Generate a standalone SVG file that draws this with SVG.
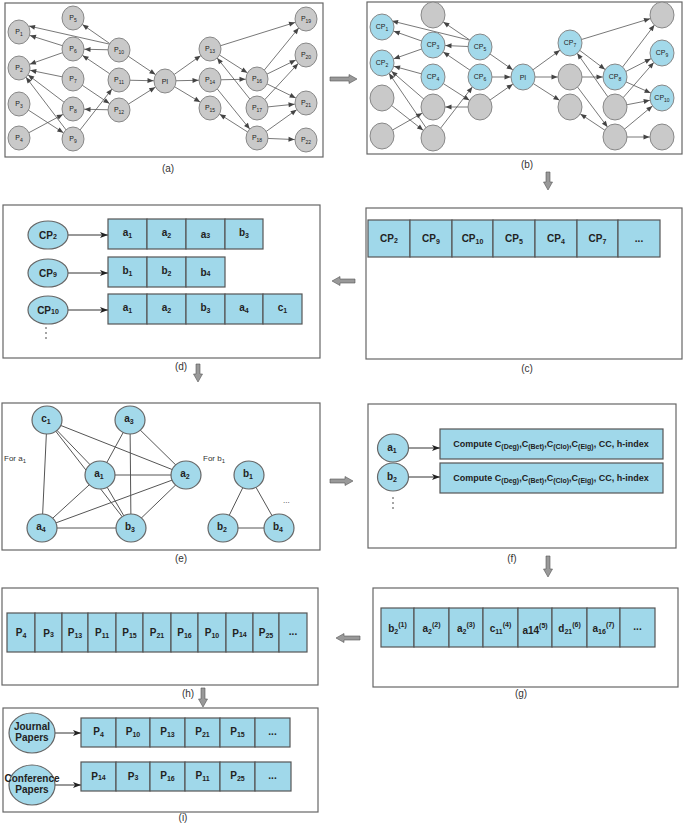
<svg xmlns="http://www.w3.org/2000/svg" width="685" height="824" viewBox="0 0 685 824">
<defs>
<style>
.box{fill:#fff;stroke:#666;stroke-width:1.2}
.gn{fill:#c9c9c9;stroke:#888;stroke-width:1}
.bn{fill:#a3d9ea;stroke:#888;stroke-width:1}
.bn2{fill:#a3d9ea;stroke:#666;stroke-width:1.2}
.nl{font-family:"Liberation Sans",Arial,sans-serif;font-size:7px;fill:#222;text-anchor:middle}
.sb{font-size:5px}
.e{stroke:#555;stroke-width:0.8;fill:none}
.ea{stroke:#555;stroke-width:0.8;fill:none;marker-end:url(#ma)}
.eb{stroke:#555;stroke-width:0.8;fill:none;marker-end:url(#mb)}
.e0{stroke:#555;stroke-width:0.8;fill:none;marker-end:url(#m0)}
.ek{stroke:#333;stroke-width:1;fill:none;marker-end:url(#mk)}
.ge{stroke:#555;stroke-width:1;fill:none}
.cell{fill:#a0d8ea;stroke:#555;stroke-width:1.2}
.cl{font-family:"Liberation Sans",Arial,sans-serif;font-weight:bold;font-size:10px;fill:#222;text-anchor:middle}
.cs{font-size:7px}
.lab{font-family:"Liberation Sans",Arial,sans-serif;font-size:10px;fill:#333;text-anchor:middle}
.txt{font-family:"Liberation Sans",Arial,sans-serif;font-size:8px;fill:#333}
.ft{font-family:"Liberation Sans",Arial,sans-serif;font-weight:bold;font-size:9px;fill:#222;text-anchor:middle}
.fs{font-size:7px}
.blk{fill:#999;stroke:#555;stroke-width:0.6}
</style>
<marker id="ma" markerUnits="userSpaceOnUse" markerWidth="7" markerHeight="5" refX="17.5" refY="2.5" orient="auto" overflow="visible"><path d="M0,0 L6,2.5 L0,5 z" fill="#444"/></marker>
<marker id="mb" markerUnits="userSpaceOnUse" markerWidth="7" markerHeight="5" refX="18.5" refY="2.5" orient="auto" overflow="visible"><path d="M0,0 L6,2.5 L0,5 z" fill="#444"/></marker>
<marker id="m0" markerUnits="userSpaceOnUse" markerWidth="7" markerHeight="5" refX="6" refY="2.5" orient="auto" overflow="visible"><path d="M0,0 L6,2.5 L0,5 z" fill="#444"/></marker>
<marker id="mk" markerUnits="userSpaceOnUse" markerWidth="8" markerHeight="6" refX="8" refY="3" orient="auto" overflow="visible"><path d="M0,0 L8,3 L0,6 L2,3 z" fill="#222"/></marker>
</defs>
<rect width="685" height="824" fill="#fff"/>

<!-- panel boxes -->
<g id="panels">
<rect class="box" x="5" y="3" width="318" height="154"/>
<rect class="box" x="367" y="2" width="315" height="152"/>
<rect class="box" x="3" y="205" width="317" height="153"/>
<rect class="box" x="366" y="208" width="316" height="151"/>
<rect class="box" x="2" y="403" width="318" height="147"/>
<rect class="box" x="368" y="404" width="308" height="144"/>
<rect class="box" x="2" y="588" width="316" height="97"/>
<rect class="box" x="373" y="588" width="305" height="99"/>
<rect class="box" x="3" y="708" width="315" height="104"/>
</g>

<g id="panel-labels">
<text class="lab" x="168" y="172">(a)</text>
<text class="lab" x="527" y="168">(b)</text>
<text class="lab" x="527" y="372">(c)</text>
<text class="lab" x="181" y="370">(d)</text>
<text class="lab" x="181" y="562">(e)</text>
<text class="lab" x="512" y="562">(f)</text>
<text class="lab" x="521" y="697">(g)</text>
<text class="lab" x="188" y="697">(h)</text>
<text class="lab" x="183" y="821">(i)</text>
</g>

<!-- flow arrows between panels -->
<g id="flow-arrows">
<path class="blk" d="M330,77 L349,77 L349,74.5 L357,79 L349,83.5 L349,81 L330,81 Z"/>
<path class="blk" d="M546,172 L546,182 L543.5,182 L548,190 L552.5,182 L550,182 L550,172 Z"/>
<path class="blk" d="M355,279 L340,279 L340,276.5 L332,281 L340,285.5 L340,283 L355,283 Z"/>
<path class="blk" d="M196,364 L196,374 L193.5,374 L198,382 L202.5,374 L200,374 L200,364 Z"/>
<path class="blk" d="M330,479 L345,479 L345,476.5 L353,481 L345,485.5 L345,483 L330,483 Z"/>
<path class="blk" d="M546,556 L546,569 L543.5,569 L548,577 L552.5,569 L550,569 L550,556 Z"/>
<path class="blk" d="M360,636 L344,636 L344,633.5 L336,638 L344,642.5 L344,640 L360,640 Z"/>
<path class="blk" d="M201,688 L201,699 L198.5,699 L203,707 L207.5,699 L205,699 L205,688 Z"/>
</g>

<!-- (a) connectors -->
<g id="connectors-a">
<line class="ea" x1="119" y1="50" x2="73" y2="18"/>
<line class="e0" x1="109" y1="44" x2="29" y2="26"/>
<line class="ea" x1="73" y1="49" x2="19" y2="32"/>
<line class="ea" x1="119" y1="50" x2="73" y2="49"/>
<line class="ea" x1="73" y1="49" x2="19" y2="68"/>
<line class="ea" x1="119" y1="80" x2="73" y2="49"/>
<line class="ea" x1="73" y1="79" x2="19" y2="68"/>
<line class="ea" x1="73" y1="79" x2="119" y2="110"/>
<line class="ea" x1="119" y1="50" x2="165" y2="81"/>
<line class="ea" x1="119" y1="80" x2="165" y2="81"/>
<line class="ea" x1="119" y1="110" x2="165" y2="81"/>
<line class="ea" x1="119" y1="110" x2="73" y2="109"/>
<line class="ea" x1="73" y1="109" x2="19" y2="68"/>
<line class="ea" x1="73" y1="139" x2="19" y2="68"/>
<line class="ea" x1="19" y1="104" x2="73" y2="139"/>
<line class="ea" x1="19" y1="138" x2="73" y2="109"/>
<line class="ea" x1="73" y1="139" x2="119" y2="80"/>
<line class="ea" x1="165" y1="81" x2="210" y2="49"/>
<line class="ea" x1="165" y1="81" x2="210" y2="80"/>
<line class="ea" x1="165" y1="81" x2="210" y2="108"/>
<line class="ea" x1="210" y1="49" x2="306" y2="19"/>
<line class="ea" x1="210" y1="49" x2="257" y2="79"/>
<line class="ea" x1="210" y1="80" x2="257" y2="79"/>
<line class="ea" x1="210" y1="80" x2="257" y2="138"/>
<line class="ea" x1="257" y1="108" x2="210" y2="49"/>
<line class="ea" x1="257" y1="138" x2="210" y2="108"/>
<line class="ea" x1="257" y1="79" x2="306" y2="19"/>
<line class="ea" x1="257" y1="79" x2="306" y2="55"/>
<line class="ea" x1="257" y1="108" x2="306" y2="55"/>
<line class="ea" x1="257" y1="79" x2="306" y2="103"/>
<line class="ea" x1="257" y1="108" x2="306" y2="103"/>
<line class="ea" x1="257" y1="138" x2="306" y2="103"/>
<line class="ea" x1="257" y1="138" x2="306" y2="140"/>
</g>

<!-- (a) nodes -->
<g id="a-P1"><ellipse class="gn" cx="19" cy="32" rx="11" ry="12"/><text class="nl" x="19" y="34">P<tspan class="sb" dy="1.5">1</tspan></text></g>
<g id="a-P2"><ellipse class="gn" cx="19" cy="68" rx="11" ry="12"/><text class="nl" x="19" y="70">P<tspan class="sb" dy="1.5">2</tspan></text></g>
<g id="a-P3"><ellipse class="gn" cx="19" cy="104" rx="11" ry="12"/><text class="nl" x="19" y="106">P<tspan class="sb" dy="1.5">3</tspan></text></g>
<g id="a-P4"><ellipse class="gn" cx="19" cy="138" rx="11" ry="12"/><text class="nl" x="19" y="140">P<tspan class="sb" dy="1.5">4</tspan></text></g>
<g id="a-P5"><ellipse class="gn" cx="73" cy="18" rx="11" ry="12"/><text class="nl" x="73" y="20">P<tspan class="sb" dy="1.5">5</tspan></text></g>
<g id="a-P6"><ellipse class="gn" cx="73" cy="49" rx="11" ry="12"/><text class="nl" x="73" y="51">P<tspan class="sb" dy="1.5">6</tspan></text></g>
<g id="a-P7"><ellipse class="gn" cx="73" cy="79" rx="11" ry="12"/><text class="nl" x="73" y="81">P<tspan class="sb" dy="1.5">7</tspan></text></g>
<g id="a-P8"><ellipse class="gn" cx="73" cy="109" rx="11" ry="12"/><text class="nl" x="73" y="111">P<tspan class="sb" dy="1.5">8</tspan></text></g>
<g id="a-P9"><ellipse class="gn" cx="73" cy="139" rx="11" ry="12"/><text class="nl" x="73" y="141">P<tspan class="sb" dy="1.5">9</tspan></text></g>
<g id="a-P10"><ellipse class="gn" cx="119" cy="50" rx="11" ry="12"/><text class="nl" x="119" y="52">P<tspan class="sb" dy="1.5">10</tspan></text></g>
<g id="a-P11"><ellipse class="gn" cx="119" cy="80" rx="11" ry="12"/><text class="nl" x="119" y="82">P<tspan class="sb" dy="1.5">11</tspan></text></g>
<g id="a-P12"><ellipse class="gn" cx="119" cy="110" rx="11" ry="12"/><text class="nl" x="119" y="112">P<tspan class="sb" dy="1.5">12</tspan></text></g>
<g id="a-PI"><ellipse class="gn" cx="165" cy="81" rx="11" ry="12"/><text class="nl" x="165" y="83.5">PI</text></g>
<g id="a-P13"><ellipse class="gn" cx="210" cy="49" rx="11" ry="12"/><text class="nl" x="210" y="51">P<tspan class="sb" dy="1.5">13</tspan></text></g>
<g id="a-P14"><ellipse class="gn" cx="210" cy="80" rx="11" ry="12"/><text class="nl" x="210" y="82">P<tspan class="sb" dy="1.5">14</tspan></text></g>
<g id="a-P15"><ellipse class="gn" cx="210" cy="108" rx="11" ry="12"/><text class="nl" x="210" y="110">P<tspan class="sb" dy="1.5">15</tspan></text></g>
<g id="a-P16"><ellipse class="gn" cx="257" cy="79" rx="11" ry="12"/><text class="nl" x="257" y="81">P<tspan class="sb" dy="1.5">16</tspan></text></g>
<g id="a-P17"><ellipse class="gn" cx="257" cy="108" rx="11" ry="12"/><text class="nl" x="257" y="110">P<tspan class="sb" dy="1.5">17</tspan></text></g>
<g id="a-P18"><ellipse class="gn" cx="257" cy="138" rx="11" ry="12"/><text class="nl" x="257" y="140">P<tspan class="sb" dy="1.5">18</tspan></text></g>
<g id="a-P19"><ellipse class="gn" cx="306" cy="19" rx="11" ry="12"/><text class="nl" x="306" y="21">P<tspan class="sb" dy="1.5">19</tspan></text></g>
<g id="a-P20"><ellipse class="gn" cx="306" cy="55" rx="11" ry="12"/><text class="nl" x="306" y="57">P<tspan class="sb" dy="1.5">20</tspan></text></g>
<g id="a-P21"><ellipse class="gn" cx="306" cy="103" rx="11" ry="12"/><text class="nl" x="306" y="105">P<tspan class="sb" dy="1.5">21</tspan></text></g>
<g id="a-P22"><ellipse class="gn" cx="306" cy="140" rx="11" ry="12"/><text class="nl" x="306" y="142">P<tspan class="sb" dy="1.5">22</tspan></text></g>

<!-- (b) connectors -->
<g id="connectors-b">
<line class="eb" x1="480" y1="47" x2="433" y2="15"/>
<line class="e0" x1="469" y1="40" x2="392" y2="21"/>
<line class="eb" x1="433" y1="45" x2="382" y2="27"/>
<line class="eb" x1="480" y1="47" x2="433" y2="45"/>
<line class="eb" x1="433" y1="45" x2="382" y2="63"/>
<line class="eb" x1="480" y1="77" x2="433" y2="45"/>
<line class="eb" x1="433" y1="77" x2="382" y2="63"/>
<line class="eb" x1="433" y1="77" x2="480" y2="107"/>
<line class="eb" x1="480" y1="47" x2="523" y2="77"/>
<line class="eb" x1="480" y1="77" x2="523" y2="77"/>
<line class="eb" x1="480" y1="107" x2="523" y2="77"/>
<line class="eb" x1="480" y1="107" x2="433" y2="107"/>
<line class="eb" x1="433" y1="107" x2="382" y2="63"/>
<line class="eb" x1="433" y1="138" x2="382" y2="63"/>
<line class="eb" x1="382" y1="98" x2="433" y2="138"/>
<line class="eb" x1="382" y1="136" x2="433" y2="107"/>
<line class="eb" x1="433" y1="138" x2="480" y2="77"/>
<line class="eb" x1="523" y1="77" x2="570" y2="43"/>
<line class="eb" x1="523" y1="77" x2="570" y2="77"/>
<line class="eb" x1="523" y1="77" x2="570" y2="107"/>
<line class="eb" x1="570" y1="43" x2="662" y2="15"/>
<line class="eb" x1="570" y1="43" x2="615" y2="77"/>
<line class="eb" x1="570" y1="77" x2="615" y2="77"/>
<line class="eb" x1="570" y1="77" x2="615" y2="137"/>
<line class="eb" x1="615" y1="107" x2="570" y2="43"/>
<line class="eb" x1="615" y1="137" x2="570" y2="107"/>
<line class="eb" x1="615" y1="77" x2="662" y2="15"/>
<line class="eb" x1="615" y1="77" x2="662" y2="53"/>
<line class="eb" x1="615" y1="107" x2="662" y2="53"/>
<line class="eb" x1="615" y1="77" x2="662" y2="98"/>
<line class="eb" x1="615" y1="107" x2="662" y2="98"/>
<line class="eb" x1="615" y1="137" x2="662" y2="98"/>
<line class="eb" x1="615" y1="137" x2="662" y2="137"/>
</g>

<!-- (b) nodes -->
<g id="b-CP1"><ellipse class="bn" cx="382" cy="27" rx="12" ry="13"/><text class="nl" x="382" y="29">CP<tspan class="sb" dy="1.5">1</tspan></text></g>
<g id="b-n5"><ellipse class="gn" cx="433" cy="15" rx="12" ry="13"/></g>
<g id="b-CP3"><ellipse class="bn" cx="433" cy="45" rx="12" ry="13"/><text class="nl" x="433" y="47">CP<tspan class="sb" dy="1.5">3</tspan></text></g>
<g id="b-CP5"><ellipse class="bn" cx="480" cy="47" rx="12" ry="13"/><text class="nl" x="480" y="49">CP<tspan class="sb" dy="1.5">5</tspan></text></g>
<g id="b-CP2"><ellipse class="bn" cx="382" cy="63" rx="12" ry="13"/><text class="nl" x="382" y="65">CP<tspan class="sb" dy="1.5">2</tspan></text></g>
<g id="b-CP4"><ellipse class="bn" cx="433" cy="77" rx="12" ry="13"/><text class="nl" x="433" y="79">CP<tspan class="sb" dy="1.5">4</tspan></text></g>
<g id="b-CP6"><ellipse class="bn" cx="480" cy="77" rx="12" ry="13"/><text class="nl" x="480" y="79">CP<tspan class="sb" dy="1.5">6</tspan></text></g>
<g id="b-n3"><ellipse class="gn" cx="382" cy="98" rx="12" ry="13"/></g>
<g id="b-n8"><ellipse class="gn" cx="433" cy="107" rx="12" ry="13"/></g>
<g id="b-n12"><ellipse class="gn" cx="480" cy="107" rx="12" ry="13"/></g>
<g id="b-n4"><ellipse class="gn" cx="382" cy="136" rx="12" ry="13"/></g>
<g id="b-n9"><ellipse class="gn" cx="433" cy="138" rx="12" ry="13"/></g>
<g id="b-PI"><ellipse class="bn" cx="523" cy="77" rx="12" ry="13"/><text class="nl" x="523" y="79.5">PI</text></g>
<g id="b-CP7"><ellipse class="bn" cx="570" cy="43" rx="12" ry="13"/><text class="nl" x="570" y="45">CP<tspan class="sb" dy="1.5">7</tspan></text></g>
<g id="b-n14"><ellipse class="gn" cx="570" cy="77" rx="12" ry="13"/></g>
<g id="b-n15"><ellipse class="gn" cx="570" cy="107" rx="12" ry="13"/></g>
<g id="b-CP8"><ellipse class="bn" cx="615" cy="77" rx="12" ry="13"/><text class="nl" x="615" y="79">CP<tspan class="sb" dy="1.5">8</tspan></text></g>
<g id="b-n17"><ellipse class="gn" cx="615" cy="107" rx="12" ry="13"/></g>
<g id="b-n18"><ellipse class="gn" cx="615" cy="137" rx="12" ry="13"/></g>
<g id="b-n19"><ellipse class="gn" cx="662" cy="15" rx="12" ry="13"/></g>
<g id="b-CP9"><ellipse class="bn" cx="662" cy="53" rx="12" ry="13"/><text class="nl" x="662" y="55">CP<tspan class="sb" dy="1.5">9</tspan></text></g>
<g id="b-CP10"><ellipse class="bn" cx="662" cy="98" rx="12" ry="13"/><text class="nl" x="662" y="100">CP<tspan class="sb" dy="1.5">10</tspan></text></g>
<g id="b-n22"><ellipse class="gn" cx="662" cy="137" rx="12" ry="13"/></g>

<!-- (c) ranked list -->
<g id="c-list">
<rect class="cell" x="368" y="220" width="42" height="37"/>
<rect class="cell" x="410" y="220" width="42" height="37"/>
<rect class="cell" x="452" y="220" width="41" height="37"/>
<rect class="cell" x="493" y="220" width="42" height="37"/>
<rect class="cell" x="535" y="220" width="42" height="37"/>
<rect class="cell" x="577" y="220" width="41" height="37"/>
<rect class="cell" x="618" y="220" width="42" height="37"/>
<text class="cl" x="389" y="242">CP<tspan class="cs" dy="0.5">2</tspan></text>
<text class="cl" x="431" y="242">CP<tspan class="cs" dy="2">9</tspan></text>
<text class="cl" x="472.5" y="242">CP<tspan class="cs" dy="2">10</tspan></text>
<text class="cl" x="514" y="242">CP<tspan class="cs" dy="2">5</tspan></text>
<text class="cl" x="556" y="242">CP<tspan class="cs" dy="2">4</tspan></text>
<text class="cl" x="597.5" y="242">CP<tspan class="cs" dy="2">7</tspan></text>
<text class="cl" x="639" y="242" font-size="7">...</text>
</g>

<!-- (d) -->
<g id="connectors-d">
<line class="ek" x1="68" y1="235" x2="108" y2="235"/>
<line class="ek" x1="68" y1="273" x2="108" y2="273"/>
<line class="ek" x1="68" y1="310" x2="108" y2="310"/>
</g>
<g id="d-CP2"><ellipse class="bn2" cx="48" cy="235" rx="20" ry="14"/><text class="cl" x="48" y="238.5" font-size="9.5">CP<tspan class="cs" dy="0.5">2</tspan></text></g>
<g id="d-CP9"><ellipse class="bn2" cx="48" cy="273" rx="20" ry="14"/><text class="cl" x="48" y="276.5" font-size="9.5">CP<tspan class="cs" dy="0.5">9</tspan></text></g>
<g id="d-CP10"><ellipse class="bn2" cx="48" cy="310" rx="20" ry="14"/><text class="cl" x="48" y="313.5" font-size="9.5">CP<tspan class="cs" dy="0.5">10</tspan></text></g>
<g id="d-dots"><circle cx="46" cy="328" r="0.8" fill="#333"/><circle cx="46" cy="333" r="0.8" fill="#333"/><circle cx="46" cy="338" r="0.8" fill="#333"/></g>
<g id="d-row1">
<rect class="cell" x="108" y="219" width="39" height="30"/>
<rect class="cell" x="147" y="219" width="39" height="30"/>
<rect class="cell" x="186" y="219" width="39" height="30"/>
<rect class="cell" x="225" y="219" width="38" height="30"/>
<text class="cl" x="127.5" y="236">a<tspan class="cs" dy="2">1</tspan></text>
<text class="cl" x="166.5" y="236">a<tspan class="cs" dy="2">2</tspan></text>
<text class="cl" x="205.5" y="238">a<tspan class="cs" dy="0">3</tspan></text>
<text class="cl" x="244" y="236">b<tspan class="cs" dy="2">3</tspan></text>
</g>
<g id="d-row2">
<rect class="cell" x="108" y="257" width="39" height="30"/>
<rect class="cell" x="147" y="257" width="39" height="30"/>
<rect class="cell" x="186" y="257" width="39" height="30"/>
<text class="cl" x="127.5" y="274">b<tspan class="cs" dy="2">1</tspan></text>
<text class="cl" x="166.5" y="274">b<tspan class="cs" dy="2">2</tspan></text>
<text class="cl" x="205.5" y="276">b<tspan class="cs" dy="0">4</tspan></text>
</g>
<g id="d-row3">
<rect class="cell" x="108" y="294" width="39" height="30"/>
<rect class="cell" x="147" y="294" width="39" height="30"/>
<rect class="cell" x="186" y="294" width="39" height="30"/>
<rect class="cell" x="225" y="294" width="38" height="30"/>
<rect class="cell" x="263" y="294" width="39" height="30"/>
<text class="cl" x="127.5" y="311">a<tspan class="cs" dy="2">1</tspan></text>
<text class="cl" x="166.5" y="311">a<tspan class="cs" dy="2">2</tspan></text>
<text class="cl" x="205.5" y="311">b<tspan class="cs" dy="2">3</tspan></text>
<text class="cl" x="244" y="311">a<tspan class="cs" dy="2">4</tspan></text>
<text class="cl" x="282.5" y="311">c<tspan class="cs" dy="2">1</tspan></text>
</g>

<!-- (e) -->
<g id="connectors-e">
<line class="ge" x1="47" y1="420" x2="100" y2="475"/>
<line class="ge" x1="47" y1="420" x2="186" y2="475"/>
<line class="ge" x1="47" y1="420" x2="42" y2="528"/>
<line class="ge" x1="47" y1="420" x2="131" y2="528"/>
<line class="ge" x1="130" y1="420" x2="100" y2="475"/>
<line class="ge" x1="130" y1="420" x2="186" y2="475"/>
<line class="ge" x1="130" y1="420" x2="131" y2="528"/>
<line class="ge" x1="100" y1="475" x2="186" y2="475"/>
<line class="ge" x1="100" y1="475" x2="42" y2="528"/>
<line class="ge" x1="100" y1="475" x2="131" y2="528"/>
<line class="ge" x1="186" y1="475" x2="42" y2="528"/>
<line class="ge" x1="186" y1="475" x2="131" y2="528"/>
<line class="ge" x1="42" y1="528" x2="131" y2="528"/>
<line class="ge" x1="249" y1="475" x2="223" y2="528"/>
<line class="ge" x1="249" y1="475" x2="279" y2="528"/>
<line class="ge" x1="223" y1="528" x2="279" y2="528"/>
</g>
<g id="e-c1"><ellipse class="bn2" cx="47" cy="420" rx="15" ry="14"/><text class="cl" x="46" y="422" font-size="8">c<tspan class="cs" font-size="6" dy="1.5">1</tspan></text></g>
<g id="e-a3"><ellipse class="bn2" cx="130" cy="420" rx="15" ry="14"/><text class="cl" x="129" y="422" font-size="8">a<tspan class="cs" font-size="6" dy="1.5">3</tspan></text></g>
<g id="e-a1"><ellipse class="bn2" cx="100" cy="475" rx="15" ry="14"/><text class="cl" x="99" y="477" font-size="8">a<tspan class="cs" font-size="6" dy="1.5">1</tspan></text></g>
<g id="e-a2"><ellipse class="bn2" cx="186" cy="475" rx="15" ry="14"/><text class="cl" x="185" y="477" font-size="8">a<tspan class="cs" font-size="6" dy="1.5">2</tspan></text></g>
<g id="e-a4"><ellipse class="bn2" cx="42" cy="528" rx="15" ry="14"/><text class="cl" x="41" y="530" font-size="8">a<tspan class="cs" font-size="6" dy="1.5">4</tspan></text></g>
<g id="e-b3"><ellipse class="bn2" cx="131" cy="528" rx="15" ry="14"/><text class="cl" x="130" y="530" font-size="8">b<tspan class="cs" font-size="6" dy="1.5">3</tspan></text></g>
<g id="e-b1"><ellipse class="bn2" cx="249" cy="475" rx="15" ry="14"/><text class="cl" x="248" y="477" font-size="8">b<tspan class="cs" font-size="6" dy="1.5">1</tspan></text></g>
<g id="e-b2"><ellipse class="bn2" cx="223" cy="528" rx="15" ry="14"/><text class="cl" x="222" y="530" font-size="8">b<tspan class="cs" font-size="6" dy="1.5">2</tspan></text></g>
<g id="e-b4"><ellipse class="bn2" cx="279" cy="528" rx="15" ry="14"/><text class="cl" x="278" y="530" font-size="8">b<tspan class="cs" font-size="6" dy="1.5">4</tspan></text></g>
<g id="e-texts">
<text class="txt" x="4" y="461">For a<tspan font-size="6" dy="1.5">1</tspan></text>
<text class="txt" x="203" y="461">For b<tspan font-size="6" dy="1.5">1</tspan></text>
<text class="txt" x="283" y="503" font-size="6">...</text>
</g>

<!-- (f) -->
<g id="connectors-f">
<line class="ek" x1="409" y1="448" x2="440" y2="448"/>
<line class="ek" x1="409" y1="477" x2="440" y2="477"/>
</g>
<g id="f-a1"><ellipse class="bn2" cx="393" cy="448" rx="15.5" ry="14"/><text class="cl" x="392" y="451" font-size="8.5">a<tspan class="cs" font-size="6" dy="1.5">1</tspan></text></g>
<g id="f-b2"><ellipse class="bn2" cx="393" cy="477" rx="15.5" ry="14"/><text class="cl" x="392" y="480" font-size="8.5">b<tspan class="cs" font-size="6" dy="1.5">2</tspan></text></g>
<g id="f-dots"><circle cx="393" cy="498" r="0.8" fill="#333"/><circle cx="393" cy="503" r="0.8" fill="#333"/><circle cx="393" cy="508" r="0.8" fill="#333"/></g>
<g id="f-box1"><rect class="cell" x="440" y="429" width="223" height="30"/>
<text class="ft" x="551" y="447">Compute C<tspan class="fs" dy="2">(Deg)</tspan><tspan dy="-2">,C</tspan><tspan class="fs" dy="2">(Bet)</tspan><tspan dy="-2">,C</tspan><tspan class="fs" dy="2">(Clo)</tspan><tspan dy="-2">,C</tspan><tspan class="fs" dy="2">(Eig)</tspan><tspan dy="-2">, CC, h-index</tspan></text></g>
<g id="f-box2"><rect class="cell" x="440" y="463" width="223" height="30"/>
<text class="ft" x="551" y="481">Compute C<tspan class="fs" dy="2">(Deg)</tspan><tspan dy="-2">,C</tspan><tspan class="fs" dy="2">(Bet)</tspan><tspan dy="-2">,C</tspan><tspan class="fs" dy="2">(Clo)</tspan><tspan dy="-2">,C</tspan><tspan class="fs" dy="2">(Eig)</tspan><tspan dy="-2">, CC, h-index</tspan></text></g>

<!-- (g) -->
<g id="g-list">
<rect class="cell" x="381" y="608" width="33" height="39"/>
<rect class="cell" x="414" y="608" width="35" height="39"/>
<rect class="cell" x="449" y="608" width="34" height="39"/>
<rect class="cell" x="483" y="608" width="35" height="39"/>
<rect class="cell" x="518" y="608" width="34" height="39"/>
<rect class="cell" x="552" y="608" width="35" height="39"/>
<rect class="cell" x="587" y="608" width="33" height="39"/>
<rect class="cell" x="620" y="608" width="35" height="39"/>
<text class="cl" x="397.5" y="632" font-size="9.5">b<tspan class="cs" dy="2">2</tspan><tspan class="cs" dy="-7">(1)</tspan></text>
<text class="cl" x="431.5" y="632" font-size="9.5">a<tspan class="cs" dy="2">2</tspan><tspan class="cs" dy="-7">(2)</tspan></text>
<text class="cl" x="466" y="632" font-size="9.5">a<tspan class="cs" dy="2">2</tspan><tspan class="cs" dy="-7">(3)</tspan></text>
<text class="cl" x="500.5" y="632" font-size="9.5">c<tspan class="cs" dy="2">11</tspan><tspan class="cs" dy="-7">(4)</tspan></text>
<text class="cl" x="535" y="634" font-size="9.5">a14<tspan class="cs" dy="-6">(5)</tspan></text>
<text class="cl" x="569.5" y="632" font-size="9.5">d<tspan class="cs" dy="2">21</tspan><tspan class="cs" dy="-7">(6)</tspan></text>
<text class="cl" x="603.5" y="632" font-size="9.5">a<tspan class="cs" dy="2">16</tspan><tspan class="cs" dy="-7">(7)</tspan></text>
<text class="cl" x="637.5" y="630" font-size="7">...</text>
</g>

<!-- (h) -->
<g id="h-list">
<rect class="cell" x="7" y="613" width="28" height="39"/>
<rect class="cell" x="35" y="613" width="27" height="39"/>
<rect class="cell" x="62" y="613" width="26" height="39"/>
<rect class="cell" x="88" y="613" width="28" height="39"/>
<rect class="cell" x="116" y="613" width="27" height="39"/>
<rect class="cell" x="143" y="613" width="28" height="39"/>
<rect class="cell" x="171" y="613" width="27" height="39"/>
<rect class="cell" x="198" y="613" width="28" height="39"/>
<rect class="cell" x="226" y="613" width="27" height="39"/>
<rect class="cell" x="253" y="613" width="26" height="39"/>
<rect class="cell" x="279" y="613" width="28" height="39"/>
<text class="cl" x="21" y="636" font-size="9">P<tspan class="cs" dy="1.5">4</tspan></text>
<text class="cl" x="48.5" y="637" font-size="9">P<tspan class="cs">3</tspan></text>
<text class="cl" x="75" y="636" font-size="9">P<tspan class="cs" dy="1.5">13</tspan></text>
<text class="cl" x="102" y="636" font-size="9">P<tspan class="cs" dy="1.5">11</tspan></text>
<text class="cl" x="129.5" y="636" font-size="9">P<tspan class="cs" dy="1.5">15</tspan></text>
<text class="cl" x="157" y="636" font-size="9">P<tspan class="cs" dy="1.5">21</tspan></text>
<text class="cl" x="184.5" y="636" font-size="9">P<tspan class="cs" dy="1.5">16</tspan></text>
<text class="cl" x="212" y="636" font-size="9">P<tspan class="cs" dy="1.5">10</tspan></text>
<text class="cl" x="239.5" y="637" font-size="9">P<tspan class="cs">14</tspan></text>
<text class="cl" x="266" y="636" font-size="9">P<tspan class="cs" dy="1.5">25</tspan></text>
<text class="cl" x="293" y="635" font-size="7">...</text>
</g>

<!-- (i) -->
<g id="connectors-i">
<line class="ek" x1="55" y1="733" x2="81" y2="733"/>
<line class="ek" x1="55" y1="785" x2="81" y2="785"/>
</g>
<g id="i-journal"><ellipse class="bn2" cx="32" cy="733" rx="23" ry="20"/>
<text class="cl" x="32" y="729.5" font-size="6.5">Journal</text><text class="cl" x="32" y="741" font-size="6.5">Papers</text></g>
<g id="i-conference"><ellipse class="bn2" cx="32" cy="785" rx="23" ry="20"/>
<text class="cl" x="32" y="781.5" font-size="6.5">Conference</text><text class="cl" x="32" y="793" font-size="6.5">Papers</text></g>
<g id="i-row1">
<rect class="cell" x="81" y="718" width="35" height="29"/>
<rect class="cell" x="116" y="718" width="34" height="29"/>
<rect class="cell" x="150" y="718" width="35" height="29"/>
<rect class="cell" x="185" y="718" width="35" height="29"/>
<rect class="cell" x="220" y="718" width="35" height="29"/>
<rect class="cell" x="255" y="718" width="35" height="29"/>
<text class="cl" x="98.5" y="735">P<tspan class="cs" dy="2">4</tspan></text>
<text class="cl" x="133" y="735">P<tspan class="cs" dy="2">10</tspan></text>
<text class="cl" x="167.5" y="735">P<tspan class="cs" dy="2">13</tspan></text>
<text class="cl" x="202.5" y="735">P<tspan class="cs" dy="2">21</tspan></text>
<text class="cl" x="237.5" y="735">P<tspan class="cs" dy="2">15</tspan></text>
<text class="cl" x="272.5" y="735" font-size="7">...</text>
</g>
<g id="i-row2">
<rect class="cell" x="81" y="762" width="35" height="29"/>
<rect class="cell" x="116" y="762" width="34" height="29"/>
<rect class="cell" x="150" y="762" width="35" height="29"/>
<rect class="cell" x="185" y="762" width="35" height="29"/>
<rect class="cell" x="220" y="762" width="35" height="29"/>
<rect class="cell" x="255" y="762" width="36" height="29"/>
<text class="cl" x="98.5" y="780">P<tspan class="cs">14</tspan></text>
<text class="cl" x="133" y="780">P<tspan class="cs">3</tspan></text>
<text class="cl" x="167.5" y="779">P<tspan class="cs" dy="2">16</tspan></text>
<text class="cl" x="202.5" y="779">P<tspan class="cs" dy="2">11</tspan></text>
<text class="cl" x="237.5" y="779">P<tspan class="cs" dy="2">25</tspan></text>
<text class="cl" x="272.5" y="779" font-size="7">...</text>
</g>
</svg>
